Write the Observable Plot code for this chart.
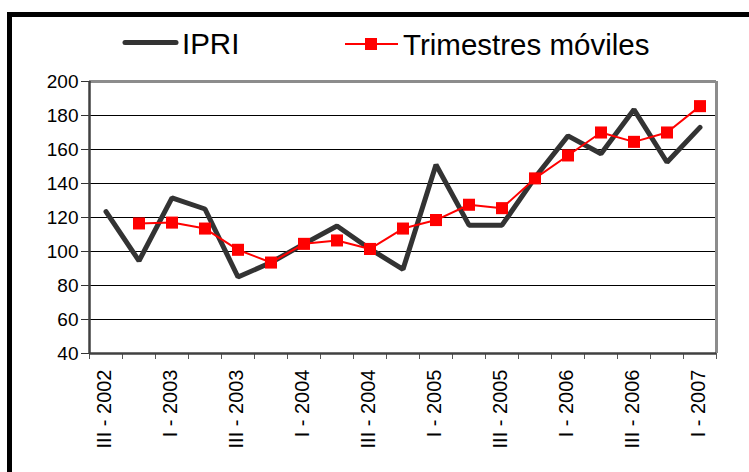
<!DOCTYPE html>
<html>
<head>
<meta charset="utf-8">
<script src="https://cdn.jsdelivr.net/npm/d3@7"></script>
<script src="https://cdn.jsdelivr.net/npm/@observablehq/plot@0.6"></script>
<style>
  html, body { margin: 0; padding: 0; background: #fff; }
  #wrap { position: relative; width: 749px; height: 472px; overflow: hidden; font-family: "Liberation Sans", Arial, sans-serif; }
  #legend { position: absolute; left: 0; top: 0; width: 749px; height: 60px; }
  #chart { position: absolute; left: 0; top: 60px; }
  .bl { position: absolute; background: #000; }
</style>
</head>
<body>
<div id="wrap">
  <svg id="legend" width="749" height="60"></svg>
  <div id="chart"></div>
  <div class="bl" style="left:7px; top:12px; width:5px; height:460px;"></div>
  <div class="bl" style="left:7px; top:12px; width:742px; height:5px;"></div>
</div>
<script>
const quarters = [
  "III - 2002", "IV - 2002", "I - 2003", "II - 2003", "III - 2003", "IV - 2003",
  "I - 2004", "II - 2004", "III - 2004", "IV - 2004", "I - 2005", "II - 2005",
  "III - 2005", "IV - 2005", "I - 2006", "II - 2006", "III - 2006", "IV - 2006", "I - 2007"
];
const ipri = [123.5, 94.5, 131.5, 125, 85, 93.5, 104.5, 115, 101.5, 89.5, 151, 115.5, 115.5, 143.5, 168, 157.5, 183.5, 152.5, 173];
const moviles = [null, 116.5, 117, 113.5, 101, 93.5, 104.5, 106.5, 101.5, 113.5, 118.5, 127.5, 125.5, 143, 156.5, 170, 164.5, 170, 185.5];
const yTicks = [40, 60, 80, 100, 120, 140, 160, 180, 200];
const seriesNames = ["IPRI", "Trimestres móviles"];

const data = quarters.map((q, i) => ({ i, q, ipri: ipri[i], mov: moviles[i] }));
const movData = data.filter(d => d.mov != null);
const boundaries = d3.range(-0.5, quarters.length, 1);
const labelIdx = d3.range(0, quarters.length, 2);

const chart = Plot.plot({
  width: 749,
  height: 412,
  marginLeft: 89,
  marginRight: 33,
  marginTop: 21,
  marginBottom: 119,
  x: { type: "linear", domain: [-0.5, quarters.length - 0.5] },
  y: { domain: [40, 200] },
  style: { fontFamily: "'Liberation Sans', Arial, sans-serif", background: "transparent", color: "#000" },
  marks: [
    Plot.gridY({ ticks: yTicks.slice(1, -1), stroke: "#000", strokeOpacity: 1, strokeWidth: 1 }),
    Plot.ruleY([200], { stroke: "#8c8c8c", strokeWidth: 3 }),
    Plot.ruleX([quarters.length - 0.5], { stroke: "#8c8c8c", strokeWidth: 3 }),
    Plot.axisY({ ticks: yTicks, tickSize: 8, tickPadding: 3, fontSize: 19, stroke: "#333", label: null }),
    Plot.axisX({ ticks: boundaries, tickSize: 6, tickFormat: () => "", stroke: "#555", label: null }),
    Plot.axisX({ ticks: labelIdx, tickSize: 0, tickPadding: 16, tickRotate: -90, fontSize: 20, dx: -1, tickFormat: i => quarters[i], label: null }),
    Plot.ruleX([-0.5], { stroke: "#404040", strokeWidth: 2.5 }),
    Plot.ruleY([40], { stroke: "#404040", strokeWidth: 2.5 }),
    Plot.line(data, { x: "i", y: "ipri", stroke: "#333", strokeWidth: 5, strokeLinejoin: "miter" }),
    Plot.line(movData, { x: "i", y: "mov", stroke: "#ff0000", strokeWidth: 2 }),
    Plot.dot(movData, { x: "i", y: "mov", symbol: "square", r: 6.8, fill: "#ff0000", stroke: "none" })
  ]
});
document.getElementById("chart").appendChild(chart);

// legend
const lg = d3.select("#legend");
lg.append("line").attr("x1", 125).attr("x2", 176).attr("y1", 42.5).attr("y2", 42.5)
  .attr("stroke", "#333").attr("stroke-width", 5).attr("stroke-linecap", "round");
lg.append("text").attr("x", 182).attr("y", 54).attr("font-size", 29.5)
  .attr("font-family", "'Liberation Sans', Arial, sans-serif").attr("fill", "#000").text(seriesNames[0]);
lg.append("line").attr("x1", 345).attr("x2", 398).attr("y1", 44).attr("y2", 44)
  .attr("stroke", "#ff0000").attr("stroke-width", 2);
lg.append("rect").attr("x", 365).attr("y", 38).attr("width", 12).attr("height", 12).attr("fill", "#ff0000");
lg.append("text").attr("x", 403).attr("y", 55).attr("font-size", 29.5)
  .attr("font-family", "'Liberation Sans', Arial, sans-serif").attr("fill", "#000").text(seriesNames[1]);
</script>
</body>
</html>
